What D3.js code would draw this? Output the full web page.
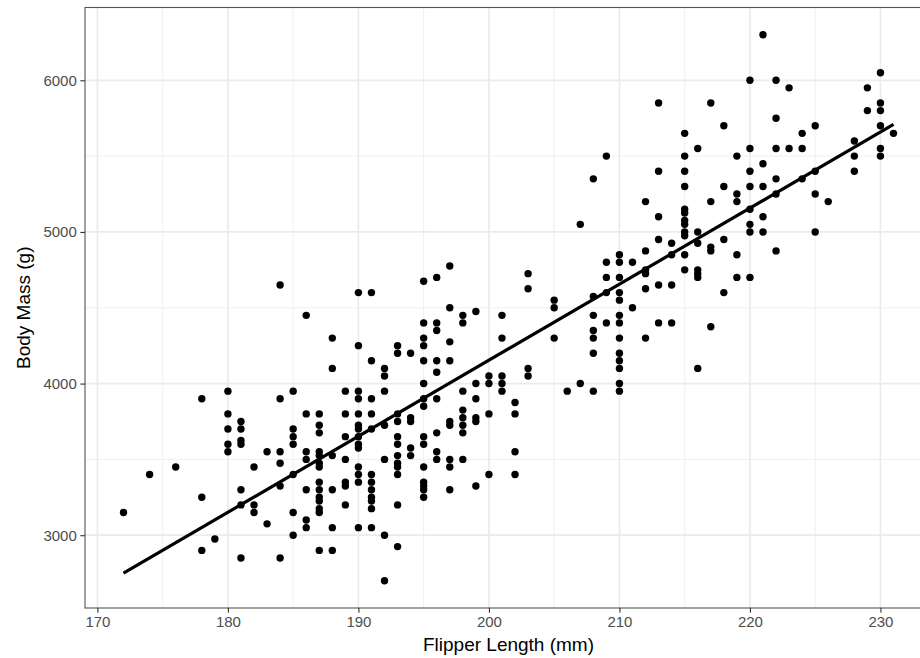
<!DOCTYPE html>
<html>
<head>
<meta charset="utf-8">
<script src="https://cdn.jsdelivr.net/npm/d3@7"></script>
<style>
  body { margin: 0; background: #fff; }
  svg { display: block; font-family: "Liberation Sans", Arial, sans-serif; }
</style>
</head>
<body>
<div id="chart"></div>
<script>
// flipper length (mm) of each column of points
var flipperLength = [172, 174, 176, 178, 179, 180, 181, 182, 183, 184, 185, 186, 187, 188, 189,
  190, 191, 192, 193, 194, 195, 196, 197, 198, 199, 200, 201, 202, 203, 205, 206, 207, 208, 209,
  210, 211, 212, 213, 214, 215, 216, 217, 218, 219, 220, 221, 222, 223, 224, 225, 226, 228, 229,
  230, 231];

// body mass (g) of the points in each column, same order as flipperLength
var bodyMass = [
  [3150],
  [3400],
  [3450],
  [3900, 3250, 2900],
  [2975],
  [3950, 3800, 3700, 3600, 3550],
  [3750, 3700, 3625, 3600, 3300, 3200, 2850],
  [3450, 3200, 3150],
  [3550, 3075],
  [4650, 3900, 3550, 3475, 3325, 2850],
  [3950, 3700, 3650, 3600, 3400, 3150, 3000],
  [4450, 3800, 3550, 3500, 3300, 3100, 3050],
  [3800, 3725, 3675, 3550, 3525, 3475, 3450, 3350, 3300, 3250, 3225, 3175, 3150, 2900],
  [4300, 4100, 3525, 3300, 3050, 2900],
  [3950, 3800, 3650, 3500, 3350, 3325, 3200],
  [4600, 4250, 3950, 3900, 3800, 3725, 3700, 3650, 3600, 3575, 3450, 3400, 3350, 3050],
  [4600, 4150, 3900, 3800, 3700, 3400, 3350, 3300, 3250, 3225, 3175, 3050],
  [4100, 4050, 3950, 3725, 3500, 3000, 2700],
  [4250, 4200, 3800, 3750, 3650, 3600, 3525, 3475, 3450, 3400, 3200, 2925],
  [4200, 3775, 3750, 3575, 3525],
  [4675, 4400, 4300, 4250, 4150, 4000, 3900, 3850, 3650, 3600, 3450, 3350, 3325, 3300, 3250],
  [4700, 4400, 4350, 4150, 4075, 3900, 3675, 3550, 3500],
  [4775, 4500, 4275, 4150, 3750, 3725, 3500, 3450, 3300],
  [4450, 4400, 3950, 3825, 3775, 3725, 3675, 3500],
  [4475, 4000, 3900, 3775, 3750, 3325],
  [4050, 4000, 3800, 3400],
  [4450, 4300, 4050, 4000, 3950],
  [3875, 3800, 3550, 3400],
  [4725, 4625, 4100, 4050],
  [4550, 4500, 4300],
  [3950],
  [5050, 4000],
  [5350, 4575, 4450, 4350, 4300, 4200, 3950],
  [5500, 4800, 4700, 4600, 4400],
  [4850, 4800, 4700, 4600, 4550, 4450, 4400, 4300, 4200, 4150, 4100, 4000, 3950],
  [4800, 4500],
  [5200, 4875, 4750, 4725, 4625, 4300],
  [5850, 5400, 5100, 4950, 4650, 4400],
  [4925, 4850, 4650, 4400],
  [5650, 5500, 5400, 5300, 5150, 5125, 5075, 5050, 5000, 4975, 4850, 4750],
  [5550, 5000, 4925, 4750, 4725, 4700, 4100],
  [5850, 5200, 4900, 4875, 4375],
  [5700, 5300, 4950, 4600],
  [5500, 5250, 5200, 4850, 4700],
  [6000, 5550, 5400, 5300, 5150, 5050, 5000, 4700],
  [6300, 5450, 5300, 5100, 5000],
  [6000, 5750, 5550, 5350, 5250, 4875],
  [5950, 5550],
  [5650, 5550, 5350],
  [5700, 5400, 5250, 5000],
  [5200],
  [5600, 5500, 5400],
  [5950, 5800],
  [6050, 5850, 5800, 5700, 5550, 5500],
  [5650]
];

var xTicks = [170, 180, 190, 200, 210, 220, 230];
var xMinorTicks = [175, 185, 195, 205, 215, 225];
var yTicks = [3000, 4000, 5000, 6000];
var yMinorTicks = [3500, 4500, 5500];

var W = 920, H = 658;
var panel = {left: 85, right: 932, top: 7.5, bottom: 608};

var points = [];
flipperLength.forEach(function(f, i) {
  bodyMass[i].forEach(function(m) { points.push({x: f, y: m}); });
});

var x = d3.scaleLinear().domain([169.05, 233.95]).range([panel.left, panel.right]);
var y = d3.scaleLinear().domain([2520, 6480]).range([panel.bottom, panel.top]);

var svg = d3.select("#chart").append("svg")
  .attr("width", W)
  .attr("height", H);

svg.append("rect").attr("width", W).attr("height", H).attr("fill", "#fff");

// grid
var grid = svg.append("g");
grid.selectAll(".xminor").data(xMinorTicks).enter().append("line")
  .attr("x1", function(d) { return x(d); }).attr("x2", function(d) { return x(d); })
  .attr("y1", panel.top).attr("y2", panel.bottom)
  .attr("stroke", "#ededed").attr("stroke-width", 0.9);
grid.selectAll(".yminor").data(yMinorTicks).enter().append("line")
  .attr("y1", function(d) { return y(d); }).attr("y2", function(d) { return y(d); })
  .attr("x1", panel.left).attr("x2", panel.right)
  .attr("stroke", "#ededed").attr("stroke-width", 0.9);
grid.selectAll(".xmajor").data(xTicks).enter().append("line")
  .attr("x1", function(d) { return x(d); }).attr("x2", function(d) { return x(d); })
  .attr("y1", panel.top).attr("y2", panel.bottom)
  .attr("stroke", "#ebebeb").attr("stroke-width", 1.7);
grid.selectAll(".ymajor").data(yTicks).enter().append("line")
  .attr("y1", function(d) { return y(d); }).attr("y2", function(d) { return y(d); })
  .attr("x1", panel.left).attr("x2", panel.right)
  .attr("stroke", "#ebebeb").attr("stroke-width", 1.7);

// points
svg.append("g").selectAll("circle")
  .data(points)
  .enter()
  .append("circle")
    .attr("cx", function(d) { return x(d.x); })
    .attr("cy", function(d) { return y(d.y); })
    .attr("r", 3.7)
    .attr("fill", "#000");

// linear fit (geom_smooth method = "lm")
var mx = d3.mean(points, function(d) { return d.x; });
var my = d3.mean(points, function(d) { return d.y; });
var sxy = d3.sum(points, function(d) { return (d.x - mx) * (d.y - my); });
var sxx = d3.sum(points, function(d) { return (d.x - mx) * (d.x - mx); });
var slope = sxy / sxx, intercept = my - slope * mx;
var xr = d3.extent(points, function(d) { return d.x; });
svg.append("path")
  .datum(xr.map(function(v) { return {x: v, y: intercept + slope * v}; }))
  .attr("d", d3.line().x(function(d) { return x(d.x); }).y(function(d) { return y(d.y); }))
  .attr("fill", "none")
  .attr("stroke", "#000")
  .attr("stroke-width", 3.2);

// panel border
svg.append("rect")
  .attr("x", panel.left).attr("y", panel.top)
  .attr("width", panel.right - panel.left).attr("height", panel.bottom - panel.top)
  .attr("fill", "none").attr("stroke", "#555").attr("stroke-width", 1.1);

// axes
var xAxis = svg.append("g")
  .attr("transform", "translate(0," + panel.bottom + ")")
  .call(d3.axisBottom(x).tickValues(xTicks).tickSize(4.7).tickPadding(3.5));
var yAxis = svg.append("g")
  .attr("transform", "translate(" + panel.left + ",0)")
  .call(d3.axisLeft(y).tickValues(yTicks).tickSize(4.7).tickPadding(3.5).tickFormat(d3.format("d")));
[xAxis, yAxis].forEach(function(a) {
  a.select(".domain").remove();
  a.selectAll(".tick line").attr("stroke", "#333").attr("stroke-width", 1.1);
  a.selectAll(".tick text").attr("fill", "#4d4d4d")
    .style("font-size", "15px").style("font-family", "Liberation Sans, Arial, sans-serif");
});

// axis titles
svg.append("text")
  .attr("x", (panel.left + panel.right) / 2)
  .attr("y", 651)
  .attr("text-anchor", "middle")
  .style("font-size", "19px")
  .text("Flipper Length (mm)");
svg.append("text")
  .attr("transform", "translate(30," + ((panel.top + panel.bottom) / 2) + ") rotate(-90)")
  .attr("text-anchor", "middle")
  .style("font-size", "19px")
  .text("Body Mass (g)");
</script>
</body>
</html>
